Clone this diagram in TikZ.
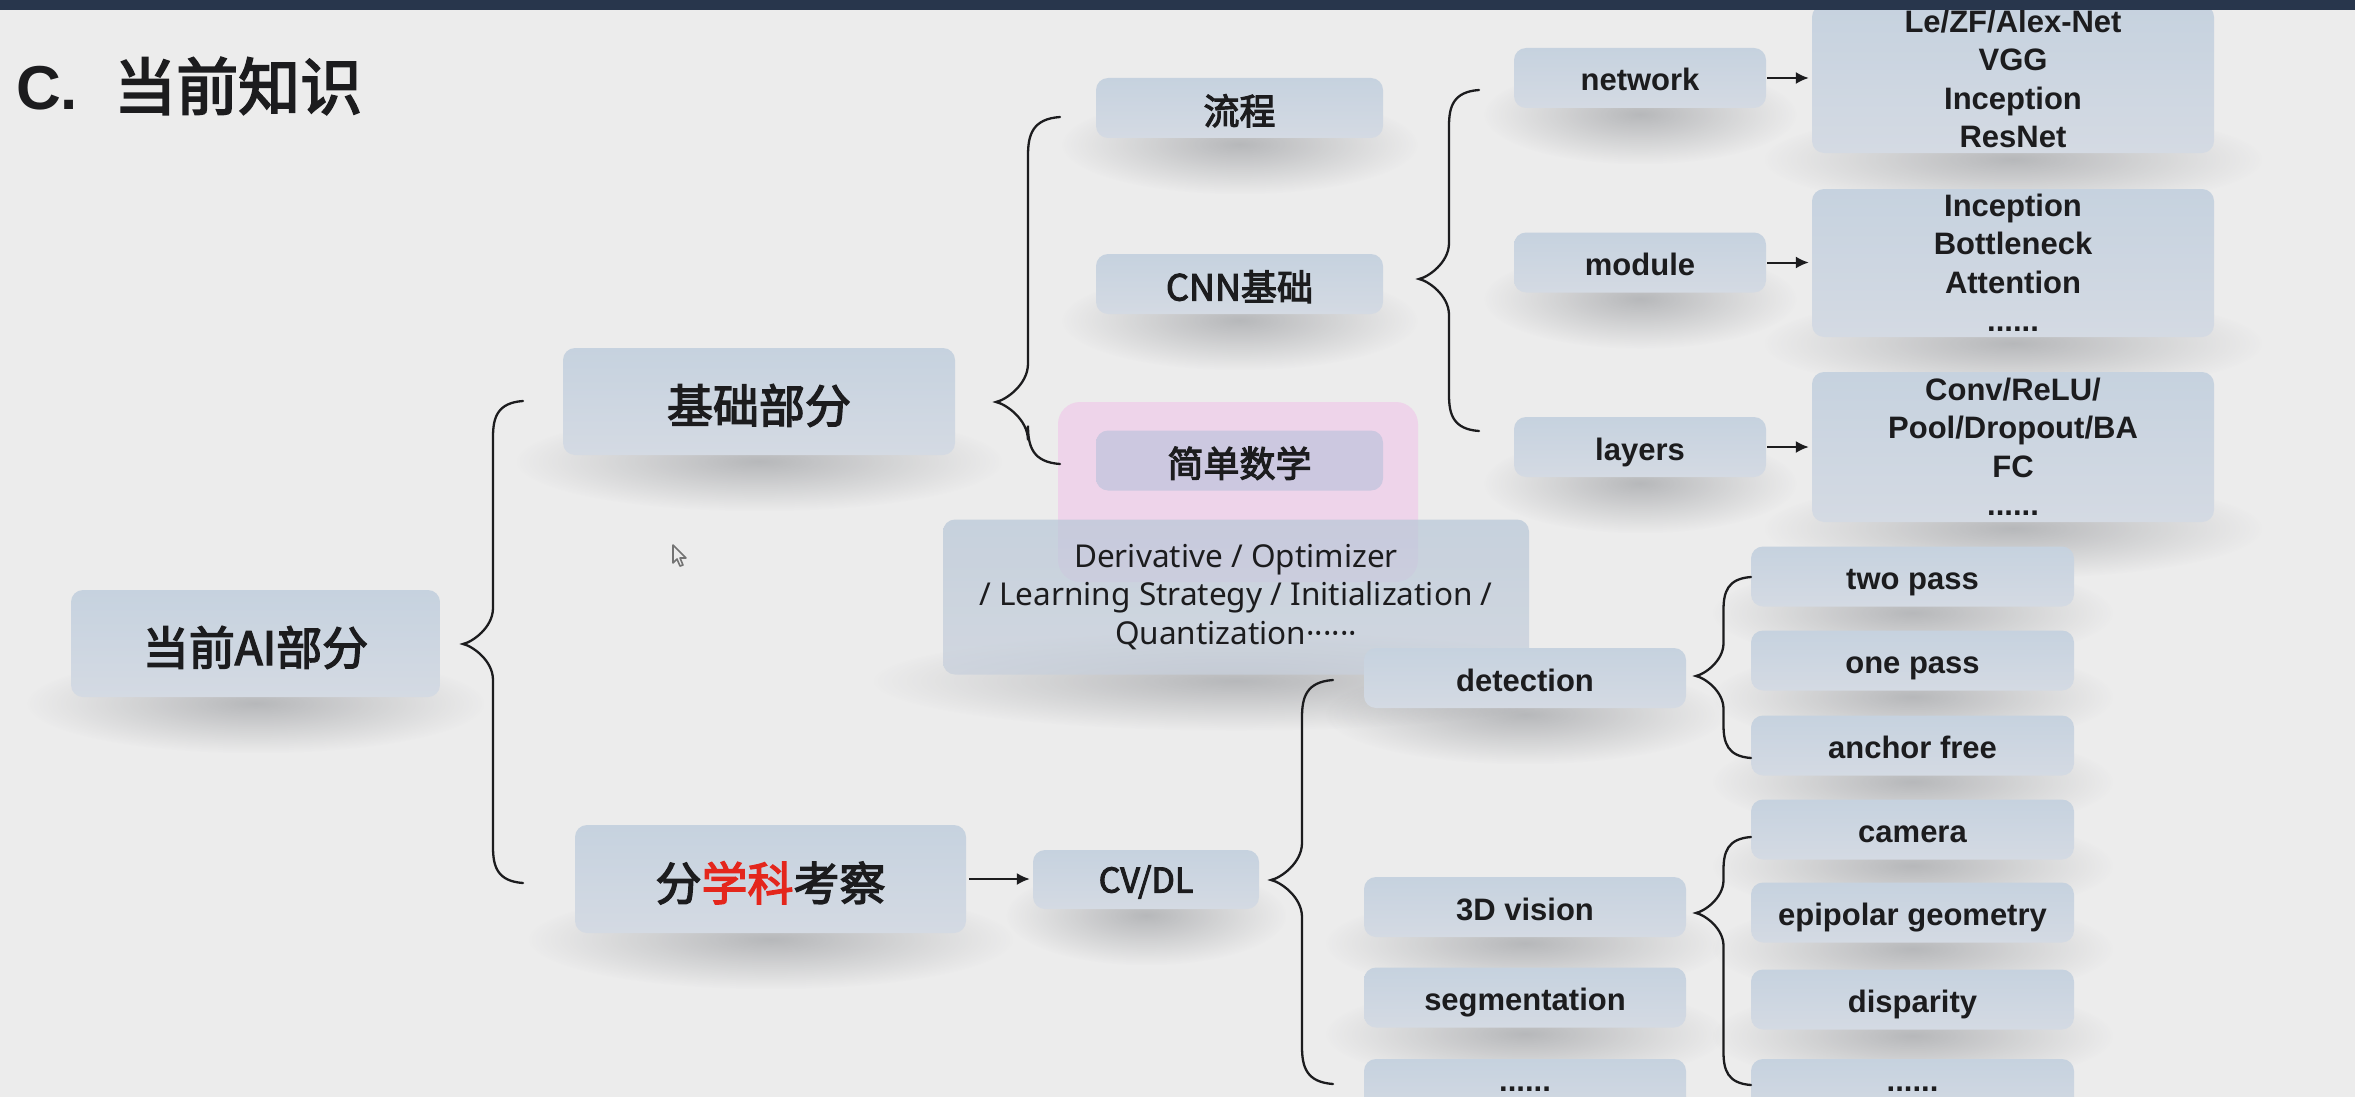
\documentclass[tikz,border=0pt]{standalone}
\usepackage{fontspec}
\setmainfont{Liberation Sans}
\newfontfamily\cjk{Noto Sans CJK SC}[FakeBold=3]
\newfontfamily\notosans{Noto Sans}
\usetikzlibrary{arrows.meta,calc,fadings}
\tikzfading[name=softfade, inner color=transparent!0, outer color=transparent!100]
\pgfdeclarelayer{bgl}
\pgfdeclarelayer{shl}
\pgfsetlayers{bgl,shl,main}
\definecolor{bgc}{RGB}{236,236,236}
\definecolor{shc}{RGB}{60,64,72}
\definecolor{barc}{RGB}{40,54,76}
\definecolor{boxtop}{RGB}{198,210,223}
\definecolor{boxbot}{RGB}{212,218,227}
\definecolor{mtop}{RGB}{186,200,216}
\definecolor{mbot}{RGB}{200,208,220}
\definecolor{pinkc}{RGB}{238,212,234}
\definecolor{lavc}{RGB}{204,200,224}
\definecolor{redc}{RGB}{228,38,28}
\definecolor{txt}{RGB}{28,28,30}

\newcommand\brc[3]{%
 \draw[brline] let \p1=(#1), \p2=(#2), \p3=(#3),
   \n1={0.5*(\x2-\x1)}, \n2={0.6*(\x2-\x1)} in
   (\p2) .. controls (\x1+1.15*\n1,\y2-0.05*\n2) and (\x1+\n1,\y2-0.45*\n2) .. (\x1+\n1,\y2-\n2)
   -- (\x1+\n1,\y1+\n2)
   .. controls (\x1+\n1,\y1+0.45*\n2) and (\x1+0.3*\n1,\y1+0.05*\n2) .. (\p1)
   .. controls (\x1+0.3*\n1,\y1-0.05*\n2) and (\x1+\n1,\y1-0.45*\n2) .. (\x1+\n1,\y1-\n2)
   -- (\x1+\n1,\y3+\n2)
   .. controls (\x1+\n1,\y3+0.45*\n2) and (\x1+1.15*\n1,\y3+0.05*\n2) .. (\p3);
}

\tikzset{
 box/.style={rounded corners=12pt, top color=boxtop, bottom color=boxbot, draw=none,
   align=center, inner sep=0pt, text=txt},
 bigcjk/.style={font=\cjk\fontsize{46}{52}\selectfont, text height=46pt, text depth=3pt},
 midcjk/.style={font=\cjk\fontsize{36}{40}\selectfont, text height=36pt, text depth=3pt},
 lab/.style={font=\bfseries\fontsize{31}{38.5}\selectfont, text height=30pt, text depth=4pt},
 labm/.style={font=\bfseries\fontsize{31}{38.5}\selectfont},
 mathfont/.style={font=\notosans\fontsize{31.5}{38.5}\selectfont},
 brline/.style={line width=2.3pt, txt, line cap=round},
 arr/.style={line width=2pt, txt, -{Latex[length=13pt,width=12pt]}},
 colA/.style={minimum width=287pt, minimum height=60pt},
 colN/.style={minimum width=252pt, minimum height=60pt},
 colR/.style={minimum width=402pt},
 colD/.style={minimum width=322pt, minimum height=60pt},
 colE/.style={minimum width=323pt, minimum height=60pt},
 softsh/.style={fill=shc, fill opacity=0.30, path fading=softfade},
}

\begin{document}
\begin{tikzpicture}[x=1pt,y=-1pt]
\useasboundingbox (0,0) rectangle (2355,1097);
\begin{pgfonlayer}{bgl}
\fill[bgc] (0,0) rectangle (2355,1097);
\end{pgfonlayer}

% title
\node[anchor=west, inner sep=0pt, text=txt, font=\fontsize{62}{70}\selectfont] (title) at (16,86)
  {\bfseries C.\hspace{36pt}{\cjk\mdseries 当前知识}};

% left part
\node[box, bigcjk, minimum width=369pt, minimum height=107pt] (ai) at (255.5,643.5) {当前AI部分};
\node[box, bigcjk, minimum width=392pt, minimum height=107pt] (jc) at (759,401.5) {基础部分};
\node[box, bigcjk, minimum width=391pt, minimum height=108pt] (fk) at (770.5,879) {分{\color{redc}学科}考察};
\node[box, font=\cjk\fontsize{34}{40}\selectfont, text height=30pt, text depth=4pt, minimum width=226pt, minimum height=59pt] (cv) at (1146,879.5) {CV/DL};

% basics
\node[box, midcjk, colA] (lc) at (1239.5,108) {流程};
\node[box, midcjk, colA] (cnn) at (1239.5,284) {CNN基础};
\node[fill=pinkc, rounded corners=22pt, minimum width=360pt, minimum height=180pt, inner sep=0pt] (pk) at (1238,492) {};
\node[box, midcjk, colA, top color=lavc, bottom color=lavc] (sx) at (1239.5,460.5) {简单数学};
\node[box, mathfont, top color=mtop, bottom color=mbot, fill opacity=0.74, text opacity=1, minimum width=586pt, minimum height=155pt] (mt) at (1236,597)
  {Derivative / Optimizer\\/ Learning Strategy / Initialization /\\Quantization\textperiodcentered\textperiodcentered\textperiodcentered\textperiodcentered\textperiodcentered\textperiodcentered};

% CNN branch
\node[box, lab, colN] (nw) at (1640,78) {network};
\node[box, lab, colN] (md) at (1640,262.5) {module};
\node[box, lab, colN] (ly) at (1640,447) {layers};
\node[box, labm, colR, minimum height=148pt] (nb) at (2013,79) {Le/ZF/Alex-Net\\VGG\\Inception\\ResNet};
\node[box, labm, colR, minimum height=148pt] (mb) at (2013,263) {Inception\\Bottleneck\\Attention\\......};
\node[box, labm, colR, minimum height=150pt] (lb) at (2013,447) {Conv/ReLU/\\Pool/Dropout/BA\\FC\\......};

% CV branch
\node[box, lab, colD] (det) at (1525,678) {detection};
\node[box, lab, colD] (v3) at (1525,907) {3D vision};
\node[box, lab, colD] (sg) at (1525,997.5) {segmentation};
\node[box, labm, colD] (dl) at (1525,1089) {......};

\node[box, lab, colE] (tp) at (1912.5,576.5) {two pass};
\node[box, lab, colE] (op) at (1912.5,660.5) {one pass};
\node[box, lab, colE] (af) at (1912.5,745.5) {anchor free};
\node[box, lab, colE] (cm) at (1912.5,829.5) {camera};
\node[box, lab, colE] (ep) at (1912.5,912.5) {epipolar geometry};
\node[box, lab, colE] (dp) at (1912.5,999.5) {disparity};
\node[box, labm, colE] (dr) at (1912.5,1089) {......};

% soft shadows under the boxes
\begin{pgfonlayer}{shl}
\foreach \nn in {ai,jc,fk,cv,lc,cnn,mt,nw,md,ly,nb,mb,lb,det,v3,sg,dl,tp,op,af,cm,ep,dp,dr}{
  \fill[softsh] let \p1=(\nn.south west), \p2=(\nn.south east), \n1={0.12*(\x2-\x1)} in
    (\x1-\n1,\y1+44) rectangle (\x2+\n1,\y1-56);
}
\end{pgfonlayer}

% brace coordinates
\coordinate (b1t) at (463,644);  \coordinate (b1a) at (523,401);  \coordinate (b1b) at (523,883);
\coordinate (b2t) at (996,402);  \coordinate (b2a) at (1060,117); \coordinate (b2b) at (1060,464);
\coordinate (b3t) at (1419,279); \coordinate (b3a) at (1479,90);  \coordinate (b3b) at (1479,431);
\coordinate (b4t) at (1271,880); \coordinate (b4a) at (1333,680); \coordinate (b4b) at (1333,1084);
\coordinate (b5t) at (1696,676); \coordinate (b5a) at (1751,577); \coordinate (b5b) at (1751,758);
\coordinate (b6t) at (1696,913); \coordinate (b6a) at (1751,837); \coordinate (b6b) at (1751,1085);
\brc{b1t}{b1a}{b1b}
\brc{b2t}{b2a}{b2b}
\brc{b3t}{b3a}{b3b}
\brc{b4t}{b4a}{b4b}
\brc{b5t}{b5a}{b5b}
\brc{b6t}{b6a}{b6b}

% arrows
\draw[arr, shorten <=3pt, shorten >=3pt] (fk.east) -- (fk.east -| cv.west);
\draw[arr, shorten <=1pt, shorten >=3pt] (nw.east) -- (nw.east -| nb.west);
\draw[arr, shorten <=1pt, shorten >=3pt] (md.east) -- (md.east -| mb.west);
\draw[arr, shorten <=1pt, shorten >=3pt] (ly.east) -- (ly.east -| lb.west);

% mouse cursor
\draw[black!55, line width=1.6pt, fill=bgc, line join=round]
  (673,545) -- (673,563) -- (677,559) -- (680,566) -- (683,565) -- (680,558) -- (686,558) -- cycle;

% top bar
\fill[barc] (0,0) rectangle (2355,10);
\end{tikzpicture}
\end{document}
